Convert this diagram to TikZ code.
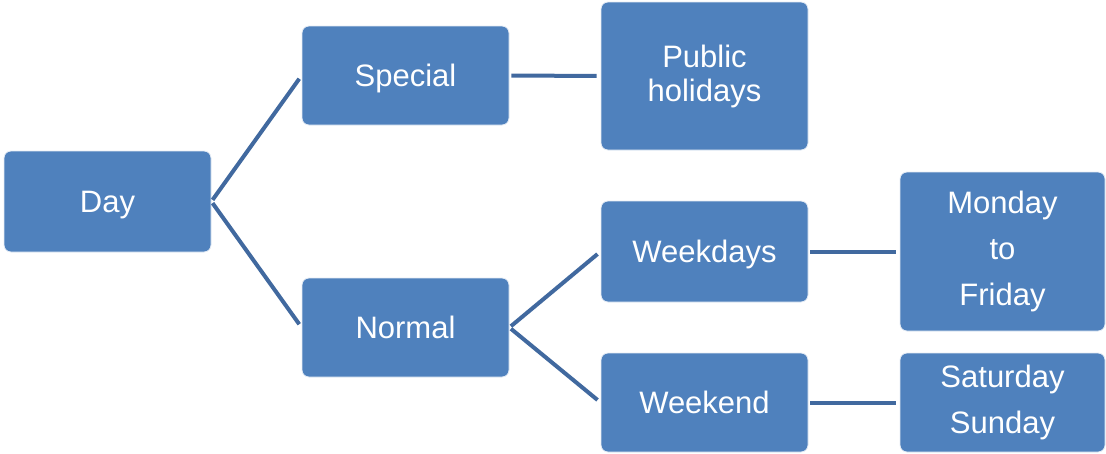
\documentclass[tikz,border=0pt]{standalone}
\usepackage{fontspec}
\setmainfont{Liberation Sans}
\definecolor{boxblue}{HTML}{4F81BD}
\definecolor{linkblue}{HTML}{41699F}
\begin{document}
\begin{tikzpicture}[x=1pt,y=-1pt,
  box/.style={rounded corners=7pt, fill=boxblue, draw=white!85!boxblue, line width=0.8pt,
    text=white, inner sep=0pt, minimum width=207pt, align=center,
    font=\fontsize{31}{34}\selectfont},
  oneline/.style={text height=22pt, text depth=0pt},
  link/.style={linkblue, line width=4pt, shorten <=2pt, shorten >=4pt}]
  \useasboundingbox (0,0) rectangle (1106,453);
  % tree nodes
  \node[box, oneline, minimum height=101pt] (day) at (107.5,201.5) {Day};
  \node[box, oneline, minimum height=99pt] (special) at (405.5,75.5) {Special};
  \node[box, oneline, minimum height=99pt] (normal) at (405.5,327.5) {Normal};
  \node[box, minimum height=148pt] (public) at (704.5,76) {Public\\holidays};
  \node[box, oneline, minimum height=101pt] (weekdays) at (704.5,251.5) {Weekdays};
  \node[box, oneline, minimum height=99pt] (weekend) at (704.5,402.5) {Weekend};
  \node[box, minimum width=205pt, minimum height=159pt,
        font=\fontsize{31}{46}\selectfont] (monfri) at (1002.5,251.5) {Monday\\to\\Friday};
  \node[box, minimum width=205pt, minimum height=99pt,
        font=\fontsize{31}{46}\selectfont] (satsun) at (1002.5,402.5) {Saturday\\Sunday};
  % connectors
  \draw[link] (day.east) -- (special.west);
  \draw[link] (day.east) -- (normal.west);
  \draw[link] (special.east) -- (public.west);
  \draw[link] (normal.east) -- (weekdays.west);
  \draw[link] (normal.east) -- (weekend.west);
  \draw[link] (weekdays.east) -- (monfri.west);
  \draw[link] (weekend.east) -- (satsun.west);
\end{tikzpicture}
\end{document}
